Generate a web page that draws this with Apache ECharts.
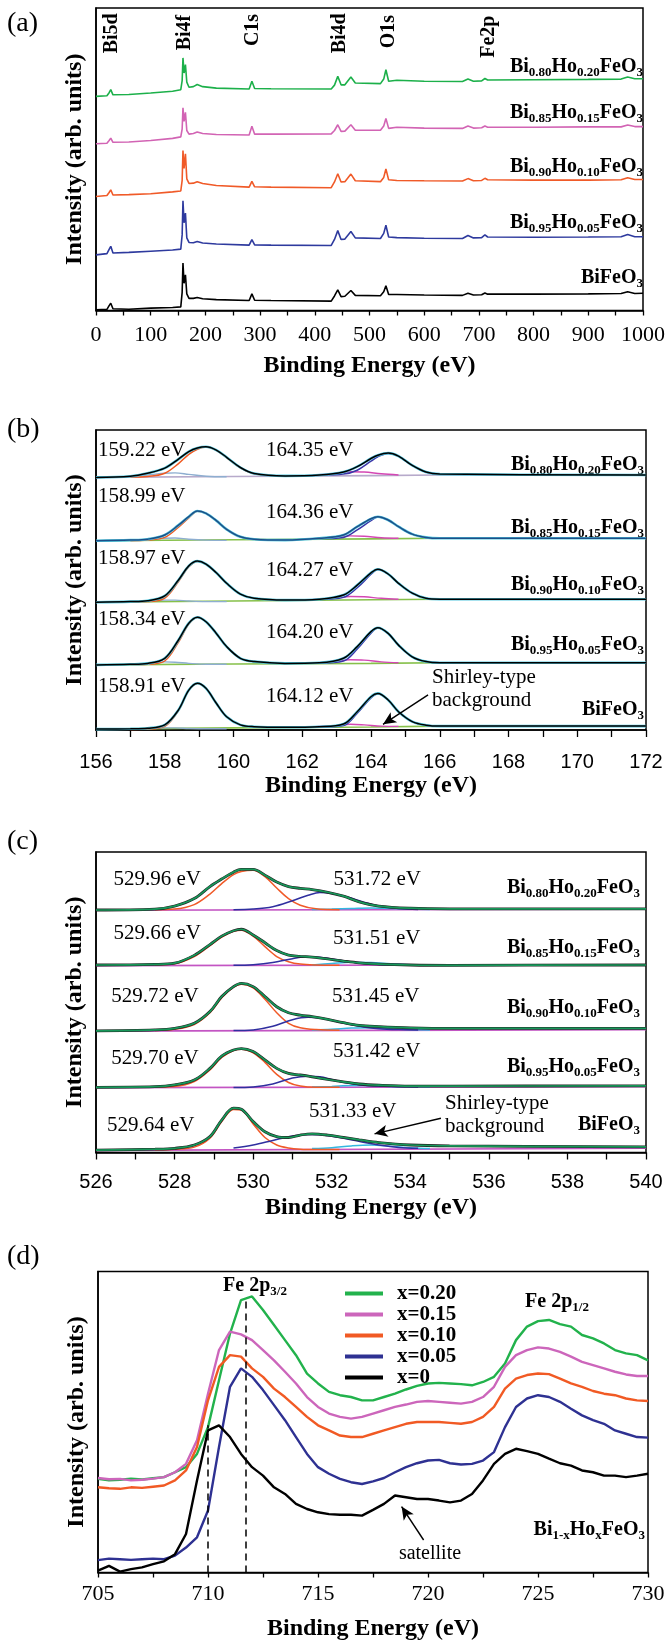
<!DOCTYPE html>
<html>
<head>
<meta charset="utf-8">
<script src="https://cdn.jsdelivr.net/npm/echarts@6.0.0/dist/echarts.min.js"></script>
<style>
  html, body { margin: 0; padding: 0; background: #fff; }
  #main { width: 668px; height: 1642px; }
</style>
</head>
<body>
<div id="main"></div>
<script>
// ---------- (a) survey spectra: [energy, intensity] ----------
const aX020 = [[0,70.8],[20,71.0],[24,72.0],[27,73.0],[31,71.3],[60,71.4],[100,71.9],[140,72.5],[155,73.0],[157.5,76],[159,83.5],[161,78.5],[163.5,81.3],[166,75.5],[170,73.8],[178,74.0],[185,74.7],[195,74.0],[220,73.5],[280,73.2],[285,75.8],[290,73.4],[320,73.3],[430,73.2],[436,74.5],[442,77.4],[448,74.6],[455,74.6],[466,77.2],[474,75.2],[520,75.0],[526,76.5],[530,79.6],[535,75.8],[550,76.1],[600,75.8],[670,75.7],[680,76.5],[690,75.8],[705,75.9],[711,76.7],[716,76.2],[800,76.3],[900,76.4],[960,76.5],[972,77.2],[985,76.6],[1000,76.6]];
const aX015 = [[0,55.1],[20,55.3],[24,56.2],[27,57.0],[31,55.6],[60,55.7],[100,56.2],[140,56.9],[155,57.4],[157.5,60],[159,67.0],[161,62.5],[163.5,65.5],[166,59.5],[170,58.3],[178,58.5],[185,59.0],[195,58.5],[220,58.2],[280,58.0],[285,60.9],[290,58.3],[320,58.3],[430,58.4],[436,59.5],[442,61.4],[448,59.2],[455,59.3],[466,61.4],[474,59.6],[520,59.6],[526,61.0],[530,63.5],[535,60.2],[550,60.6],[600,60.3],[670,60.2],[680,61.0],[690,60.3],[705,60.4],[711,61.0],[716,60.6],[800,60.6],[900,60.7],[960,60.7],[972,61.3],[985,60.8],[1000,60.8]];
const aX010 = [[0,37.7],[20,38.0],[24,39.0],[27,39.9],[31,38.2],[60,38.3],[100,38.6],[140,39.2],[155,39.5],[157.5,43],[159,52.9],[161,47.0],[163.5,51.8],[166,43.5],[170,42.0],[178,42.1],[185,42.6],[195,42.0],[220,41.3],[280,40.8],[285,42.7],[290,40.9],[320,40.8],[430,40.6],[436,42.5],[442,45.2],[448,42.5],[455,42.6],[466,45.1],[474,42.9],[520,42.6],[526,44.0],[530,46.8],[535,43.2],[550,43.0],[600,42.9],[670,42.8],[680,43.6],[690,42.9],[705,43.0],[711,43.7],[716,43.2],[800,43.1],[900,43.1],[960,43.2],[972,43.9],[985,43.3],[1000,43.3]];
const aX005 = [[0,18.4],[20,18.8],[24,20.2],[27,21.2],[31,19.0],[60,19.2],[100,19.6],[140,20.0],[155,20.3],[157.5,25],[159,36.3],[161,29.0],[163.5,32.2],[166,24.0],[170,22.5],[178,22.4],[185,22.8],[195,22.3],[220,22.0],[280,21.6],[285,23.4],[290,21.7],[320,21.6],[430,21.5],[436,23.5],[442,26.4],[448,23.5],[455,23.6],[466,26.1],[474,24.0],[520,23.8],[526,25.5],[530,28.2],[535,24.3],[550,24.1],[600,23.9],[670,23.8],[680,24.8],[690,24.0],[705,24.1],[711,25.0],[716,24.3],[800,24.2],[900,24.3],[960,24.4],[972,25.1],[985,24.4],[1000,24.4]];
const aX000 = [[0,0.2],[20,0.4],[24,1.6],[27,2.4],[31,0.6],[60,0.4],[100,0.8],[140,1.0],[155,1.2],[157.5,6],[159,15.7],[161,9.0],[163.5,11.8],[166,5.5],[170,4.0],[178,4.0],[185,4.3],[195,3.9],[220,3.6],[280,3.3],[285,5.5],[290,3.4],[320,3.3],[430,3.1],[436,4.8],[442,6.8],[448,4.6],[455,4.7],[466,6.6],[474,5.0],[520,4.9],[526,6.2],[530,8.2],[535,5.3],[550,5.3],[600,5.1],[670,5.0],[680,5.7],[690,5.1],[705,5.2],[711,5.8],[716,5.4],[800,5.4],[900,5.5],[960,5.6],[972,6.2],[985,5.6],[1000,5.7]];
const aPeaks = ['Bi5d', 'Bi4f', 'C1s', 'Bi4d', 'O1s', 'Fe2p'];

// ---------- (b) Bi 4f ----------
const bE = [156,157,157.5,158,158.4,158.7,158.95,159.2,159.5,159.8,160.2,160.6,161.5,162.5,163.2,163.6,164.0,164.2,164.5,164.8,165.2,165.6,166,172];
const bEnv020 = [84.2,84.6,85.6,87.3,90.3,92.8,94.0,94.4,93.3,90.9,87.5,85.5,84.7,85.0,86.0,87.8,90.5,91.6,92.3,91.3,88.2,86.0,85.3,85.0];
const bEnv015 = [63.1,63.3,63.6,65.0,68.3,71.1,73.0,72.2,69.8,66.9,64.4,63.6,63.3,63.9,65.0,67.8,70.4,71.1,70.0,67.8,65.3,64.2,63.9,63.9];
const bEnv010 = [42.6,42.8,43.1,44.7,50.0,54.7,56.3,55.3,52.4,48.9,45.3,43.9,43.3,43.6,45.0,48.3,52.4,53.6,52.0,48.9,45.6,43.9,43.6,43.6];
const bEnv005 = [21.7,21.9,22.2,23.9,30.0,35.6,37.6,36.1,32.2,27.8,23.9,22.8,22.2,22.4,23.9,27.8,32.8,34.1,32.2,28.3,24.4,22.8,22.4,22.4];
const bEnv000 = [0.3,0.4,0.6,1.7,6.7,13.3,15.6,13.9,8.9,4.4,1.7,1.1,0.9,1.1,2.0,6.1,11.1,12.2,10.0,6.1,2.8,1.6,1.3,1.3];
const bOE = [157,157.5,158,158.4,158.7,158.95,159.2,159.5,159.8,160.2,160.6,161.5];
const bOr020 = [84.3,84.5,85.6,88.8,91.9,93.6,94.3,93.2,90.8,87.4,85.4,84.6];
const bOr015 = [63.1,63.3,64.2,67.6,70.7,72.9,72.2,69.8,66.9,64.4,63.6,63.3];
const bOr010 = [42.7,42.8,44.0,49.5,54.4,56.2,55.3,52.4,48.9,45.3,43.9,43.3];
const bOr005 = [21.8,21.9,23.0,29.3,35.3,37.5,36.1,32.2,27.8,23.9,22.8,22.2];
const bOr000 = [0.2,0.3,1.2,6.5,13.2,15.5,13.9,8.9,4.4,1.7,1.1,0.9];
const bGE = [157,157.5,158,158.3,158.7,159.2,159.8];
const bGr020 = [84.6,85.0,85.6,85.7,85.2,84.6,84.4];
const bGr015 = [63.2,63.5,63.9,64.0,63.6,63.3,63.2];
const bGr010 = [42.8,43.0,43.3,43.3,43.0,42.8,42.8];
const bGr005 = [21.9,22.2,22.7,22.6,22.2,21.9,21.9];
const bGr000 = [0.4,0.5,0.7,0.7,0.5,0.4,0.4];
const bUE = [162.5,163.2,163.6,164.0,164.2,164.5,164.8,165.2,165.6,166];
const bBl020 = [85.0,85.3,86.6,89.6,91.1,92.2,91.3,88.2,86.0,85.3];
const bBl015 = [63.8,64.2,66.7,69.8,71.0,70.0,67.8,65.3,64.2,63.9];
const bBl010 = [43.5,44.2,47.4,51.9,53.5,52.0,48.9,45.6,43.9,43.6];
const bBl005 = [22.3,23.0,27.0,32.3,34.0,32.2,28.3,24.4,22.8,22.4];
const bBl000 = [1.0,1.5,5.6,10.7,12.1,10.0,6.1,2.8,1.6,1.3];
const bME = [162.3,162.9,163.4,163.8,164.3,164.8];
const bMg020 = [84.9,85.4,86.1,86.0,85.4,85.0];
const bMg015 = [63.8,64.1,64.7,64.6,64.1,63.9];
const bMg010 = [43.5,43.9,44.5,44.4,43.9,43.6];
const bMg005 = [22.3,22.8,23.4,23.3,22.7,22.4];
const bMg000 = [1.0,1.4,1.9,1.7,1.3,1.2];
const bSE = [156,160,164,166,172];
const bBg020 = [84.2,84.5,84.8,85.0,85.0];
const bBg015 = [63.1,63.4,63.7,63.9,63.9];
const bBg010 = [42.6,43.0,43.4,43.6,43.6];
const bBg005 = [21.7,22.0,22.2,22.4,22.4];
const bBg000 = [0.3,0.7,1.0,1.3,1.3];
const bPos1 = ['159.22 eV', '158.99 eV', '158.97 eV', '158.34 eV', '158.91 eV'];
const bPos2 = ['164.35 eV', '164.36 eV', '164.27 eV', '164.20 eV', '164.12 eV'];

// ---------- (c) O 1s ----------
const cE = [526,527.5,528,528.5,528.9,529.2,529.5,529.7,530.0,530.3,530.6,530.9,531.2,531.5,531.9,532.3,532.7,533.2,534,535,540];
const cEnv020 = [80.7,81.0,82.0,84.5,88.5,91.0,93.3,94.2,94.2,92.3,90.0,88.5,87.9,87.5,86.6,85.3,83.4,82.0,81.3,81.1,81.1];
const cEnv015 = [62.4,62.6,63.0,65.6,69.2,72.0,73.8,74.3,72.4,69.8,67.2,65.7,65.3,65.0,64.4,63.7,63.1,62.7,62.4,62.3,62.4];
const cEnv010 = [40.5,40.8,41.3,43.0,46.9,51.9,55.2,56.3,55.2,51.9,48.5,46.5,45.7,45.2,44.3,43.2,42.3,41.9,41.5,41.3,41.3];
const cEnv005 = [21.7,21.9,22.5,24.1,28.0,32.1,34.1,34.6,33.6,30.8,28.0,26.3,25.8,25.2,24.3,23.5,22.8,22.4,22.1,22.1,22.2];
const cEnv000 = [0.8,1.1,1.4,2.5,5.3,10.8,14.8,14.4,10.3,6.9,5.3,5.0,5.8,6.2,5.8,5.0,4.2,3.3,2.5,2.2,1.9];
const cOE = [527.5,528,528.5,528.9,529.2,529.5,529.7,530.0,530.3,530.6,530.9,531.2,531.6,532.2];
const cOr020 = [80.8,81.0,82.5,86.0,89.5,92.5,93.5,93.9,91.8,88.0,84.5,82.3,81.1,80.8];
const cOr015 = [62.5,62.8,65.2,68.8,71.7,73.6,74.0,72.0,68.5,65.2,63.5,62.7,62.4,62.3];
const cOr010 = [40.6,41.0,42.6,46.5,51.5,55.0,56.0,54.8,51.0,46.5,43.0,41.5,40.9,40.7];
const cOr005 = [21.8,22.0,23.6,27.5,31.6,33.9,34.4,33.2,30.0,26.0,23.3,22.1,21.7,21.7];
const cOr000 = [0.9,1.1,1.8,4.8,10.3,14.3,14.1,9.5,5.0,2.5,1.5,1.1,1.0,1.0];
const cUE = [529.5,530,530.5,531,531.4,531.7,532,532.4,532.8,533.2,533.7,534.2];
const cBl020 = [80.8,81.0,81.8,83.8,85.6,86.5,86.2,85.0,83.4,82.0,81.2,80.9];
const cBl015 = [62.3,62.5,63.2,64.5,65.1,65.0,64.4,63.6,62.9,62.6,62.4,62.3];
const cBl010 = [40.6,40.8,42.0,44.2,45.0,44.8,44.0,42.8,41.8,41.2,40.9,40.8];
const cBl005 = [21.6,21.8,22.8,24.8,25.4,25.2,24.3,23.1,22.4,22.1,21.9,21.8];
const cBl000 = [1.5,2.5,4.0,5.5,6.0,5.9,5.4,4.5,3.4,2.5,1.7,1.4];
const cCE = [531.5,532,532.5,533,533.5,534,534.5];
const cCy020 = [80.9,81.0,81.2,81.4,81.2,81.0,80.9];
const cCy015 = [62.4,62.9,63.3,63.2,62.8,62.5,62.4];
const cCy010 = [40.8,41.0,41.4,41.5,41.2,40.9,40.8];
const cCy005 = [21.8,22.0,22.3,22.3,22.0,21.9,21.8];
const cCy000 = [1.3,1.6,2.2,2.5,2.1,1.6,1.3];
const cSE = [526,540];
const cBg020 = [80.6,81.0];
const cBg015 = [62.2,62.5];
const cBg010 = [40.4,40.9];
const cBg005 = [21.6,21.9];
const cBg000 = [0.7,1.4];
const cPos1 = ['529.96 eV', '529.66 eV', '529.72 eV', '529.70 eV', '529.64 eV'];
const cPos2 = ['531.72 eV', '531.51 eV', '531.45 eV', '531.42 eV', '531.33 eV'];

// ---------- (d) Fe 2p ----------
const dE = [705,705.5,706,706.5,707,707.5,708,708.5,709,709.5,710,710.5,711,711.5,712,712.5,713,713.5,714,714.5,715,715.5,716,716.5,717,717.5,718,718.5,719,719.5,720,720.5,721,721.5,722,722.5,723,723.5,724,724.5,725,725.5,726,726.5,727,727.5,728,728.5,729,729.5,730];
const dX020 = [31.1,30.6,30.8,31.2,30.9,31.3,31.7,33.3,35.0,39.4,48.3,63.9,79.4,90.5,91.7,87.2,82.2,77.2,72.2,66.1,62.8,60.0,58.9,58.3,57.2,57.2,58.3,59.4,60.8,62.0,62.8,63.0,62.8,62.6,62.2,63.3,65.0,69.4,77.2,81.7,83.5,83.9,82.5,81.7,78.9,77.8,76.1,73.9,72.8,72.2,70.5];
const dX015 = [31.4,31.0,31.1,30.6,30.8,31.2,31.7,33.3,36.1,43.9,59.4,73.9,80.0,79.1,77.2,73.9,70.5,66.7,62.8,58.3,55.0,52.8,51.7,51.1,51.7,52.8,53.9,55.0,55.8,56.7,57.0,56.7,56.4,56.1,56.7,58.3,61.7,68.3,72.2,73.9,74.8,74.4,73.3,71.7,70.0,68.9,67.8,66.7,65.8,65.3,65.3];
const dX010 = [28.3,28.0,27.8,28.3,28.1,28.5,28.9,30.6,33.9,41.7,57.2,68.3,72.2,71.7,67.8,65.0,61.1,58.3,55.0,51.7,48.9,47.2,45.5,45.0,45.0,46.1,47.2,48.3,49.4,50.0,50.0,50.0,49.7,49.4,50.0,51.7,55.0,61.1,64.4,65.6,66.1,65.9,64.4,62.8,61.7,60.3,59.4,58.9,57.8,57.2,57.0];
const dX005 = [4.1,4.6,4.4,4.2,4.4,4.6,4.4,5.6,8.3,11.7,20.6,41.7,61.7,67.8,65.0,60.6,55.6,50.6,45.0,39.4,35.0,32.8,31.1,30.0,29.4,30.3,31.4,33.3,35.0,36.3,37.2,37.4,36.3,35.9,36.1,37.2,40.0,48.3,55.0,57.8,58.9,58.3,56.7,54.4,52.2,50.6,49.4,47.2,46.1,45.0,44.8];
const dX000 = [0.6,2.2,0.3,1.1,1.7,2.8,3.7,6.1,12.8,30.6,47.2,48.9,45.0,39.4,35.0,32.2,28.3,26.1,22.8,21.1,20.0,19.4,19.2,19.2,18.9,20.8,22.8,25.6,25.0,24.4,24.4,23.9,23.3,23.9,26.1,30.6,36.1,39.4,41.1,40.3,39.4,37.8,36.3,35.5,33.9,33.3,32.2,32.2,31.7,32.2,32.8];
const dNames = ['x=0.20', 'x=0.15', 'x=0.10', 'x=0.05', 'x=0'];

const SERIF = '"Liberation Serif", "DejaVu Serif", serif';
const SANS = '"Liberation Sans", "DejaVu Sans", sans-serif';

const zip = (xs, ys) => xs.map((x, i) => [x, ys[i]]);

function line(g, data, color, width, extra) {
  return Object.assign({
    type: 'line', xAxisIndex: g, yAxisIndex: g, data: data,
    symbol: 'none', silent: true,
    lineStyle: { color: color, width: width },
    itemStyle: { color: color }
  }, extra || {});
}

const series = [];

// (a)
const aColors = ['#1cb04a', '#d264b4', '#f05a28', '#2e3a9e', '#000000'];
[aX020, aX015, aX010, aX005, aX000].forEach((d, i) => {
  series.push(line(0, d, aColors[i], 1.6));
});

// (b)
const bTraces = [
  [bEnv020, bOr020, bGr020, bBl020, bMg020, bBg020],
  [bEnv015, bOr015, bGr015, bBl015, bMg015, bBg015],
  [bEnv010, bOr010, bGr010, bBl010, bMg010, bBg010],
  [bEnv005, bOr005, bGr005, bBl005, bMg005, bBg005],
  [bEnv000, bOr000, bGr000, bBl000, bMg000, bBg000]
];
bTraces.forEach((t, i) => {
  const sm = { smooth: 0.35 };
  series.push(line(1, zip(bSE, t[5]), i === 0 ? '#b7aacb' : '#86c04a', 1.6));
  series.push(line(1, zip(bGE, t[2]), '#8eaed0', 1.4, sm));
  series.push(line(1, zip(bME, t[4]), '#d447b4', 1.4, sm));
  series.push(line(1, zip(bOE, t[1]), '#f05a22', 1.5, sm));
  series.push(line(1, zip(bUE, t[3]), '#3a36a8', 1.5, sm));
  series.push(line(1, zip(bE, t[0]), '#52c6de', 2.6, sm));
  series.push(line(1, zip(bE, t[0]), i === 1 ? '#1d4e88' : '#000000', 1.5, sm));
});

// (c)
const cTraces = [
  [cEnv020, cOr020, cBl020, cCy020, cBg020],
  [cEnv015, cOr015, cBl015, cCy015, cBg015],
  [cEnv010, cOr010, cBl010, cCy010, cBg010],
  [cEnv005, cOr005, cBl005, cCy005, cBg005],
  [cEnv000, cOr000, cBl000, cCy000, cBg000]
];
cTraces.forEach((t) => {
  const sm = { smooth: 0.35 };
  series.push(line(2, zip(cSE, t[4]), '#c355c3', 1.6));
  series.push(line(2, zip(cCE, t[3]), '#33b8e0', 1.5, sm));
  series.push(line(2, zip(cOE, t[1]), '#f05a28', 1.5, sm));
  series.push(line(2, zip(cUE, t[2]), '#2f2f9f', 1.5, sm));
  series.push(line(2, zip(cE, t[0]), '#222222', 2.8, sm));
  series.push(line(2, zip(cE, t[0]), '#17985a', 1.7, sm));
});

// (d)
const dColors = ['#22b24c', '#cc66bb', '#f15a24', '#2e3192', '#000000'];
[dX020, dX015, dX010, dX005, dX000].forEach((d, i) => {
  series.push(line(3, zip(dE, d), dColors[i], 2.4, { name: dNames[i] }));
});

// arrows and dashed guides
const arrowStyle = { color: '#000', width: 1.4, type: 'solid' };
series.push({
  type: 'line', xAxisIndex: 1, yAxisIndex: 1, data: [], silent: true,
  markLine: { silent: true, symbol: ['none', 'arrow'], symbolSize: [9, 13], label: { show: false },
    lineStyle: arrowStyle, data: [[{ coord: [165.66, 11.7] }, { coord: [164.35, 1.9] }]] }
});
series.push({
  type: 'line', xAxisIndex: 2, yAxisIndex: 2, data: [], silent: true,
  markLine: { silent: true, symbol: ['none', 'arrow'], symbolSize: [9, 13], label: { show: false },
    lineStyle: arrowStyle, data: [[{ coord: [534.78, 11.4] }, { coord: [533.09, 6.2] }]] }
});
series.push({
  type: 'line', xAxisIndex: 3, yAxisIndex: 3, data: [], silent: true,
  markLine: { silent: true, symbol: ['none', 'arrow'], symbolSize: [9, 13], label: { show: false },
    lineStyle: arrowStyle, data: [[{ coord: [719.8, 10.8] }, { coord: [718.8, 21.9] }]] }
});
series.push({
  type: 'line', xAxisIndex: 3, yAxisIndex: 3, data: [], silent: true,
  markLine: { silent: true, symbol: 'none', label: { show: false },
    lineStyle: { color: '#000', width: 1.5, type: [7, 5] },
    data: [[{ coord: [710, 0] }, { coord: [710, 48.9] }], [{ coord: [711.7, 0] }, { coord: [711.7, 91.7] }]] }
});

// axes
const grids = [
  { left: 96, top: 8, width: 550, height: 302.5 },
  { left: 96, top: 430, width: 550, height: 300 },
  { left: 96, top: 852, width: 550, height: 300.5 },
  { left: 98, top: 1271.5, width: 550, height: 301 }
].map(g => Object.assign({ show: true, borderColor: '#000', borderWidth: 1.5, backgroundColor: 'transparent' }, g));

const xSpec = [
  { min: 0, max: 1000, interval: 100, font: SERIF, size: 22, margin: 14, gap: 43, tick: 5 },
  { min: 156, max: 172, interval: 2, font: SANS, size: 20, margin: 22, gap: 44, tick: 7 },
  { min: 526, max: 540, interval: 2, font: SANS, size: 20, margin: 20, gap: 43, tick: 7 },
  { min: 705, max: 730, interval: 5, font: SERIF, size: 22, margin: 11, gap: 44, tick: 5 }
];
const xAxis = xSpec.map((s, i) => ({
  type: 'value', gridIndex: i, min: s.min, max: s.max, interval: s.interval,
  name: 'Binding Energy (eV)', nameLocation: 'middle', nameGap: s.gap,
  nameTextStyle: { fontFamily: SERIF, fontWeight: 'bold', fontSize: 24, color: '#000' },
  axisLine: { show: true, onZero: false, lineStyle: { color: '#000', width: 1.5 } },
  axisTick: { show: true, inside: false, length: s.tick, lineStyle: { color: '#000', width: 1.3 } },
  minorTick: { show: true, splitNumber: 2, length: s.tick, lineStyle: { color: '#000', width: 1.3 } },
  splitLine: { show: false },
  axisLabel: { fontFamily: s.font, fontSize: s.size, color: '#000', margin: s.margin,
    formatter: v => String(v) }
}));
const yAxis = [0, 1, 2, 3].map(i => ({
  type: 'value', gridIndex: i, min: 0, max: 100,
  name: 'Intensity (arb. units)', nameLocation: 'middle', nameGap: 9,
  nameTextStyle: { fontFamily: SERIF, fontWeight: 'bold', fontSize: 24, color: '#000' },
  axisLine: { show: true, lineStyle: { color: '#000', width: 1.5 } },
  axisTick: { show: false }, axisLabel: { show: false }, splitLine: { show: false }
}));

// text annotations
const RICH = {
  b: { fontFamily: SERIF, fontWeight: 'bold', fontSize: 20, lineHeight: 24, fill: '#000' },
  s: { fontFamily: SERIF, fontWeight: 'bold', fontSize: 13, lineHeight: 13, verticalAlign: 'bottom', fill: '#000' }
};
const sampleTexts = [
  '{b|Bi}{s|0.80}{b|Ho}{s|0.20}{b|FeO}{s|3}',
  '{b|Bi}{s|0.85}{b|Ho}{s|0.15}{b|FeO}{s|3}',
  '{b|Bi}{s|0.90}{b|Ho}{s|0.10}{b|FeO}{s|3}',
  '{b|Bi}{s|0.95}{b|Ho}{s|0.05}{b|FeO}{s|3}',
  '{b|BiFeO}{s|3}'
];
function rich(x, y, text, align) {
  return { type: 'text', x: x, y: y, silent: true,
    style: { text: text, rich: RICH, align: align || 'right', verticalAlign: 'middle' } };
}
function plain(x, y, text, size, weight, align) {
  return { type: 'text', x: x, y: y, silent: true,
    style: { text: text, fontFamily: SERIF, fontSize: size, fontWeight: weight || 'normal',
      fill: '#000', align: align || 'left', verticalAlign: 'middle' } };
}

const graphics = [];
// panel letters
[['(a)', 24], ['(b)', 430], ['(c)', 842], ['(d)', 1257]].forEach(p => graphics.push(plain(7, p[1], p[0], 28)));
// (a)
const aPeakX = [111.4, 184.8, 252.5, 339.4, 388.5, 489];
const aPeakY = [33.3, 32.5, 30, 33.3, 31.7, 36.7];
aPeaks.forEach((t, i) => {
  graphics.push({ type: 'text', x: aPeakX[i], y: aPeakY[i], rotation: Math.PI / 2, silent: true,
    style: { text: t, fontFamily: SERIF, fontWeight: 'bold', fontSize: 20, fill: '#000', align: 'center', verticalAlign: 'middle' } });
});
[66.7, 113.3, 166.7, 223.3, 278.3].forEach((y, i) => graphics.push(rich(643, y, sampleTexts[i])));
// (b)
const bY1 = [450, 496.7, 558.3, 619.3, 686];
const bY2 = [450, 512.7, 570, 632.7, 696.7];
bPos1.forEach((t, i) => graphics.push(plain(98, bY1[i], t, 21)));
bPos2.forEach((t, i) => graphics.push(plain(266, bY2[i], t, 21)));
graphics.push(plain(432, 677.3, 'Shirley-type', 21));
graphics.push(plain(432, 700.7, 'background', 21));
[465, 528.3, 585, 645, 710].forEach((y, i) => graphics.push(rich(644, y, sampleTexts[i])));
// (c)
const cX1 = [113.5, 113.5, 111.3, 111.3, 107];
const cY1 = [879, 933.3, 996.7, 1058.3, 1125];
const cX2 = [333.5, 333, 332, 333, 309];
const cY2 = [879, 938.3, 996.7, 1051.7, 1111.7];
cPos1.forEach((t, i) => graphics.push(plain(cX1[i], cY1[i], t, 21)));
cPos2.forEach((t, i) => graphics.push(plain(cX2[i], cY2[i], t, 21)));
graphics.push(plain(445, 1103.3, 'Shirley-type', 21));
graphics.push(plain(445, 1126, 'background', 21));
[888.3, 948.3, 1008.3, 1066.7, 1125].forEach((y, i) => graphics.push(rich(640, y, sampleTexts[i])));
// (d)
graphics.push(rich(255, 1286, '{b|Fe 2p}{s|3/2}', 'center'));
graphics.push(rich(557, 1301.7, '{b|Fe 2p}{s|1/2}', 'center'));
graphics.push(rich(645, 1530, '{b|Bi}{s|1-x}{b|Ho}{s|x}{b|FeO}{s|3}'));
graphics.push(plain(430, 1553.3, 'satellite', 20, 'normal', 'center'));

const chart = echarts.init(document.getElementById('main'), null, { renderer: 'canvas' });
chart.setOption({
  animation: false,
  backgroundColor: '#fff',
  textStyle: { fontFamily: SERIF },
  grid: grids,
  xAxis: xAxis,
  yAxis: yAxis,
  legend: {
    data: dNames, orient: 'vertical', left: 340, top: 1278, itemGap: 0,
    itemWidth: 38, itemHeight: 4, icon: 'rect', selectedMode: false,
    textStyle: { fontFamily: SERIF, fontWeight: 'bold', fontSize: 21, color: '#000', lineHeight: 20, padding: [0, 0, 0, 9] }
  },
  series: series,
  graphic: graphics
});
</script>
</body>
</html>
